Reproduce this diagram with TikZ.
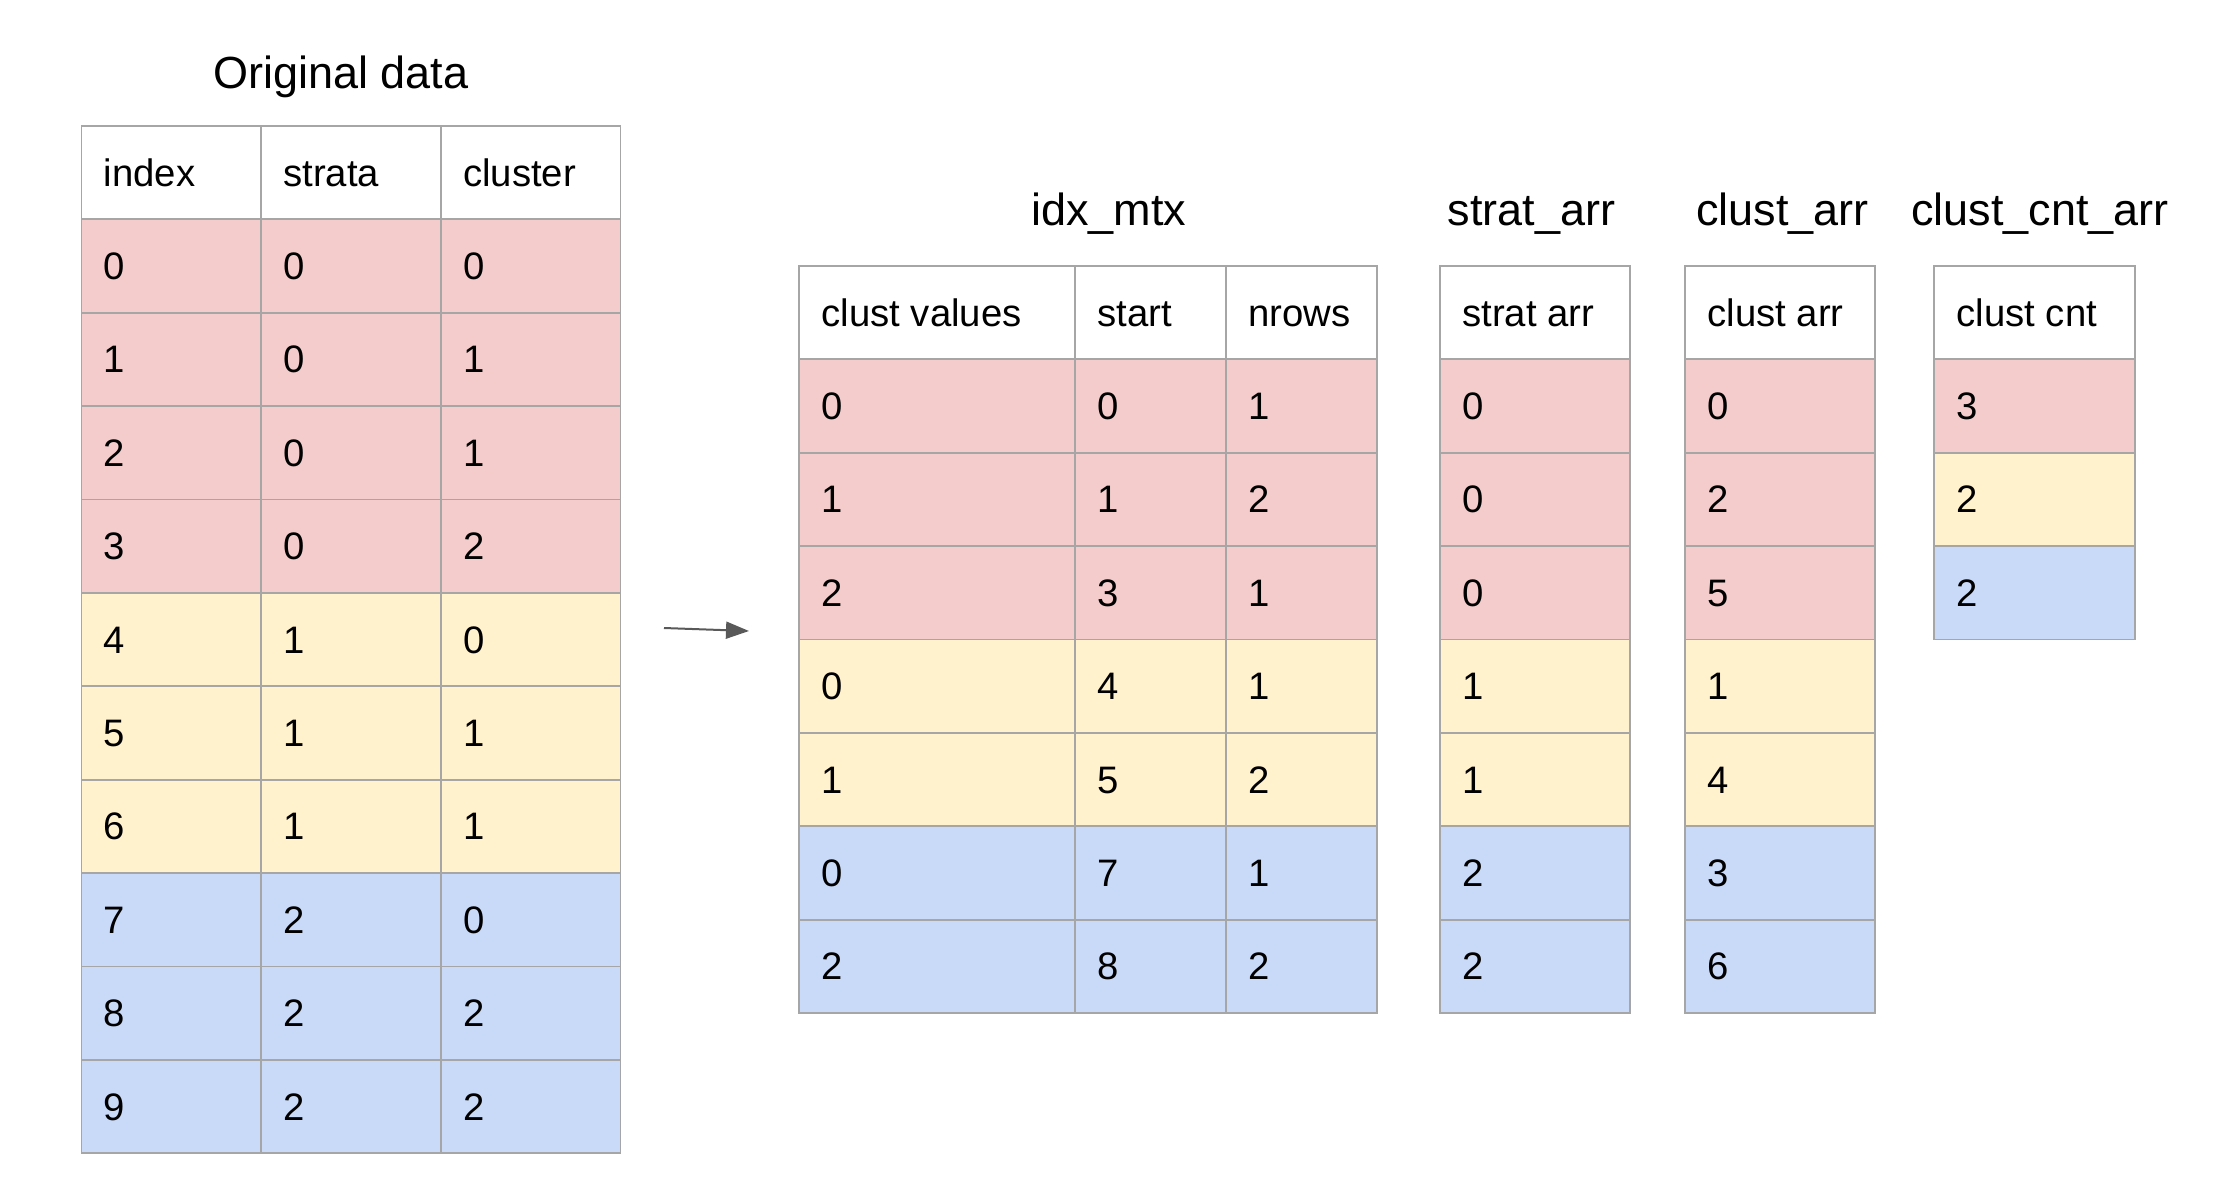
\documentclass[tikz,border=0pt]{standalone}
\usepackage{fontspec}
\setmainfont{Liberation Sans}
\usetikzlibrary{arrows.meta}
\definecolor{rowr}{HTML}{F4CCCC}
\definecolor{rowy}{HTML}{FFF2CC}
\definecolor{rowb}{HTML}{C9DAF8}
\definecolor{roww}{HTML}{FFFFFF}
\definecolor{gridc}{HTML}{A6A6A6}
\definecolor{arrc}{HTML}{595959}
\newcommand{\tcell}[6]{%
  \node[cell, fill=#5, minimum width=#4pt] (#1) at (#2,#3) {};
  \node[txt] (#1-t) at (#1.west) {#6};}
\begin{document}
\begin{tikzpicture}[x=1pt,y=-1pt,
  cell/.style={draw=gridc, line width=1.8pt, rectangle, inner sep=0pt, anchor=north west, minimum height=93.4pt},
  txt/.style={anchor=base west, inner sep=0pt, font=\fontsize{38.3}{42}\selectfont, xshift=23pt, yshift=-13.5pt},
  ttl/.style={anchor=base, inner sep=0pt, font=\fontsize{45}{52}\selectfont},
  conn/.style={draw=arrc, line width=2pt, -{Triangle[length=23pt,width=17pt]}}]
\useasboundingbox (0,0) rectangle (2222,1192);
% titles
\node[ttl] (t-od) at (341,88.3) {Original data};
\node[ttl] (t-idx) at (1108.6,225) {idx\_mtx};
\node[ttl] (t-strat) at (1531.7,225) {strat\_arr};
\node[ttl] (t-clust) at (1782.3,225) {clust\_arr};
\node[ttl] (t-cnt) at (2039.9,225) {clust\_cnt\_arr};
% original data
\foreach \a/\b/\c/\col [count=\i] in {index/strata/cluster/roww, 0/0/0/rowr, 1/0/1/rowr, 2/0/1/rowr, 3/0/2/rowr, 4/1/0/rowy, 5/1/1/rowy, 6/1/1/rowy, 7/2/0/rowb, 8/2/2/rowb, 9/2/2/rowb} {
  \pgfmathsetmacro\yy{125+(\i-1)*93.4}
  \tcell{od-\i-1}{80.5}{\yy}{179.5}{\col}{\a}
  \tcell{od-\i-2}{260}{\yy}{180}{\col}{\b}
  \tcell{od-\i-3}{440}{\yy}{179.5}{\col}{\c}
}
% idx_mtx, strat_arr, clust_arr
\foreach \a/\b/\c/\d/\e/\col [count=\i] in {clust values/start/nrows/strat arr/clust arr/roww, 0/0/1/0/0/rowr, 1/1/2/0/2/rowr, 2/3/1/0/5/rowr, 0/4/1/1/1/rowy, 1/5/2/1/4/rowy, 0/7/1/2/3/rowb, 2/8/2/2/6/rowb} {
  \pgfmathsetmacro\yy{265+(\i-1)*93.4}
  \tcell{im-\i-1}{798.3}{\yy}{275.7}{\col}{\a}
  \tcell{im-\i-2}{1074}{\yy}{151}{\col}{\b}
  \tcell{im-\i-3}{1225}{\yy}{150.7}{\col}{\c}
  \tcell{sa-\i}{1439}{\yy}{190}{\col}{\d}
  \tcell{ca-\i}{1684.3}{\yy}{189.7}{\col}{\e}
}
% clust_cnt_arr
\foreach \a/\col [count=\i] in {clust cnt/roww, 3/rowr, 2/rowy, 2/rowb} {
  \pgfmathsetmacro\yy{265+(\i-1)*93.4}
  \tcell{cc-\i}{1933.3}{\yy}{201}{\col}{\a}
}
% arrow
\coordinate (arrS) at (664,628);
\coordinate (arrE) at (749,631);
\draw[conn] (arrS) -- (arrE);
\end{tikzpicture}
\end{document}
